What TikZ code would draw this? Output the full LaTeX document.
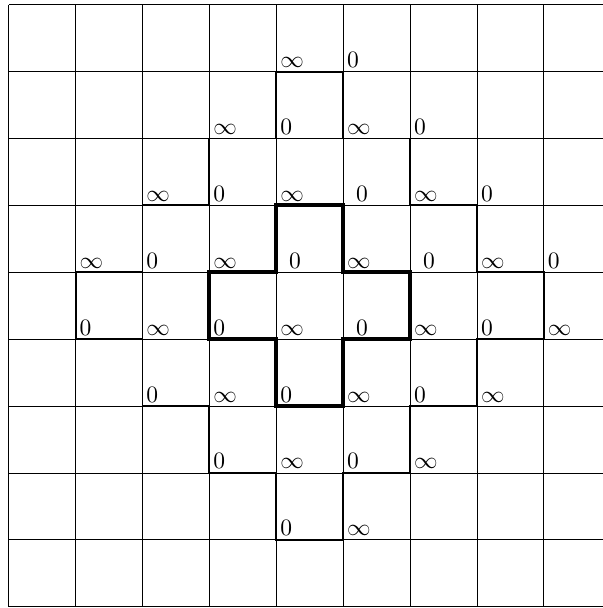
\documentclass[tikz,border=0pt]{standalone}
\usepackage{amsmath,amssymb}
\usepackage{tikz}
\usetikzlibrary{positioning}

\begin{document}
\begin{tikzpicture}[x=1cm,y=1cm,
        lab/.style={anchor=south west, inner sep=1.5pt},
        labin/.style={lab, xshift=3.8pt}]
    \useasboundingbox (-0.13,-0.018) rectangle (8.883,9.07);
    \clip (-0.13,-0.018) rectangle (8.883,9.07);
    \draw[line width=0.4pt] (0,0) grid (9,9);
    % outer staircase
    \draw[thick] (4,8) -- (5,8) -- (5,7) -- (6,7) -- (6,6) -- (7,6) -- (7,5) -- (8,5)
                 -- (8,4) -- (7,4) -- (7,3) -- (6,3) -- (6,2) -- (5,2) -- (5,1) -- (4,1)
                 -- (4,2) -- (3,2) -- (3,3) -- (2,3) -- (2,4) -- (1,4) -- (1,5) -- (2,5)
                 -- (2,6) -- (3,6) -- (3,7) -- (4,7) -- cycle;
    % the plus in the middle
    \draw[line width=1.7pt] (4,6) -- (5,6) -- (5,5) -- (6,5) -- (6,4) -- (5,4)
                 -- (5,3) -- (4,3) -- (4,4) -- (3,4) -- (3,5) -- (4,5) -- cycle;
    % labels
    \foreach \x/\y in {4/8, 3/7, 5/7, 2/6, 4/6, 6/6, 1/5, 3/5, 5/5, 7/5,
                       2/4, 4/4, 6/4, 8/4, 3/3, 5/3, 7/3, 4/2, 6/2, 5/1}
        \node[lab] (inf-\x-\y) at (\x,\y) {$\infty$};
    \foreach \x/\y in {5/8, 4/7, 6/7, 3/6, 7/6, 2/5, 8/5,
                       1/4, 3/4, 7/4, 2/3, 4/3, 6/3, 3/2, 5/2, 4/1}
        \node[lab] (zero-\x-\y) at (\x,\y) {$0$};
    \foreach \x/\y in {5/6, 4/5, 6/5, 5/4}
        \node[labin] (zero-\x-\y) at (\x,\y) {$0$};
\end{tikzpicture}
\end{document}
